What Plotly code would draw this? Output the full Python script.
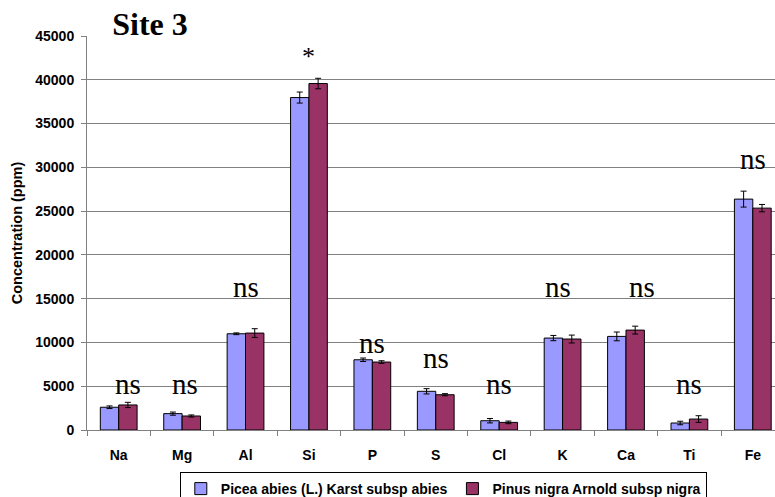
import plotly.graph_objects as go

elements = ["Na", "Mg", "Al", "Si", "P", "S", "Cl", "K", "Ca", "Ti", "Fe"]
picea = [2600, 1870, 10990, 37970, 8020, 4420, 1060, 10500, 10690, 800, 26370]
picea_err = [150, 180, 100, 630, 200, 300, 250, 300, 500, 200, 910]
pinus = [2860, 1600, 11070, 39570, 7760, 4030, 870, 10390, 11410, 1250, 25340]
pinus_err = [300, 120, 500, 600, 150, 120, 150, 450, 450, 380, 420]

sig_labels = ["ns", "ns", "ns", "*", "ns", "ns", "ns", "ns", "ns", "ns", "ns"]
sig_heights = [5300, 5300, 16300, 42700, 9900, 8200, 5300, 16300, 16300, 5300, 31000]
sig_shift = [0.15, 0.05, 0.0, 0.0, 0.0, 0.0, 0.0, -0.08, 0.25, 0.0, 0.0]

series_names = ["Picea abies (L.) Karst subsp abies", "Pinus nigra Arnold subsp nigra"]
colors = ["#9999FF", "#993366"]

sans = "Liberation Sans, Arial, sans-serif"
serif = "Liberation Serif, Times New Roman, serif"

fig = go.Figure()
for name, vals, errs, col in zip(series_names, [picea, pinus], [picea_err, pinus_err], colors):
    fig.add_trace(go.Bar(
        x=elements, y=vals, name=name,
        marker=dict(color=col, line=dict(color="#000000", width=1)),
        error_y=dict(type="data", array=errs, visible=True, color="#000000", thickness=1, width=3),
    ))

for i, (lab, h, s) in enumerate(zip(sig_labels, sig_heights, sig_shift)):
    fig.add_annotation(
        x=i + s, y=h, xref="x", yref="y", text=lab, showarrow=False,
        font=dict(family=serif, size=29 if lab == "ns" else 26, color="#000000"),
    )

fig.update_layout(
    width=775, height=497,
    margin=dict(l=87, r=0, t=36, b=67),
    paper_bgcolor="white", plot_bgcolor="white",
    barmode="group", bargap=0.42, bargroupgap=0,
    showlegend=True,
    legend=dict(
        orientation="h", xref="container", yref="container",
        x=0.572, xanchor="center", y=1 - 489 / 497, yanchor="middle",
        bordercolor="#000000", borderwidth=1,
        font=dict(family=sans, size=14, color="#000000", weight="bold"),
        traceorder="normal", itemwidth=30,
    ),
    title=dict(
        text="<b>Site 3</b>", x=150 / 775, xanchor="center", y=1 - 24 / 497, yanchor="middle",
        font=dict(family=serif, size=32, color="#000000"),
    ),
)

fig.update_xaxes(
    type="category", range=[-0.5, 10.35], automargin=False,
    showline=True, linecolor="#808080", linewidth=1,
    ticks="outside", tickson="boundaries", ticklen=5, tickcolor="#808080",
    tickfont=dict(family=sans, size=14, color="#000000", weight="bold"),
    ticklabelstandoff=12,
    showgrid=False,
)
fig.update_yaxes(
    range=[0, 45000], dtick=5000, tickformat="d", automargin=False,
    showline=True, linecolor="#808080", linewidth=1,
    ticks="outside", ticklen=5, tickcolor="#808080",
    showgrid=True, gridcolor="#808080", gridwidth=1,
    tickfont=dict(family=sans, size=14, color="#000000", weight="bold"),
    ticklabelstandoff=4,
    title=dict(text="Concentration (ppm)", font=dict(family=sans, size=14.5, color="#000000", weight="bold"), standoff=9),
    zeroline=False,
)

fig.write_html(
    "out.html",
    config={"displayModeBar": False},
    post_script="document.body.style.margin='0';document.body.style.overflow='hidden';",
)
